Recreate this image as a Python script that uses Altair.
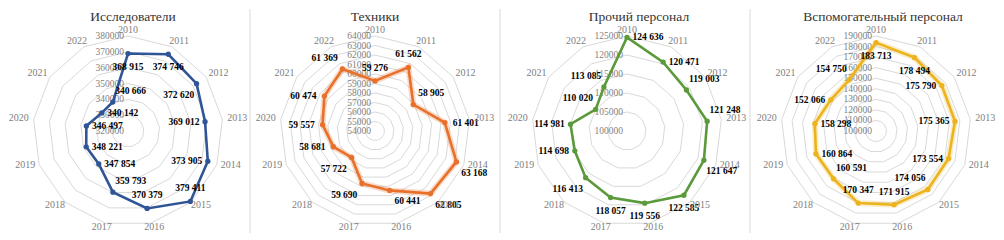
import altair as alt
import pandas as pd

# ---------------- data ----------------
years = [str(y) for y in range(2010, 2023)]
titles = ["Исследователи", "Техники", "Прочий персонал", "Вспомогательный персонал"]
researchers = [368915, 374746, 372620, 369012, 373905, 379411, 370379, 359793, 347854, 348221, 346497, 340142, 340666]
technicians = [59276, 61562, 58905, 61401, 63168, 62805, 60441, 59690, 57722, 58681, 59557, 60474, 61369]
other_staff = [124636, 120471, 119003, 121248, 121647, 122585, 119556, 118057, 116413, 114698, 114981, 110020, 113085]
support_staff = [183713, 178494, 175790, 175365, 173554, 174056, 171915, 170347, 160591, 160864, 158298, 152066, 154750]
axis_min = [320000, 54000, 100000, 100000]
axis_max = [380000, 64000, 125000, 190000]
axis_step = [10000, 1000, 5000, 10000]

series = [researchers, technicians, other_staff, support_staff]

# ---------------- layout / style ----------------
FONT = "Liberation Serif, 'Times New Roman', serif"
N = len(years)
R = 95          # outer ring radius (px)
RHO = 100       # category label radius (px)
CY = 130        # page y of radar centre
TOP, BOTTOM = 8, 232
edges = [8, 250, 500, 750, 996]
centers = [128, 375, 627, 876]
title_x = [133, 375, 639, 883]
TITLE_Y = 20
colors = ["#2F5597", "#E8702A", "#5A9A3A", "#EDB31E"]
glow = [False, True, False, True]
GRID = "#d9d9d9"

# data-label placement (like Excel's label position: side of the point)
label_side = [
    ["S", "S", "SW", "W", "W", "N", "N", "NE", "E", "E", "E", "E", "NE"],
    ["N", "N", "NE", "E", "SE", "SE", "SE", "SW", "SW", "W", "W", "W", "NW"],
    ["E", "E", "NE", "NE", "SE", "S", "S", "S", "SW", "W", "W", "NW", "NW"],
    ["S", "S", "W", "W", "W", "NW", "N", "N", "NE", "E", "E", "W", "NW"],
]
SIDE_VEC = {"E": (1, 0), "W": (-1, 0), "N": (0, -1), "S": (0, 1),
            "NE": (0.85, -0.85), "NW": (-0.85, -0.85), "SE": (0.85, 0.85), "SW": (-0.85, 0.85)}
DH, DV = 21, 13


def fmt(v):
    return f"{v:,}".replace(",", " ")


def make_panel(k):
    vals = series[k]
    lo, hi, step = axis_min[k], axis_max[k], axis_step[k]
    cx = centers[k]
    left, right = edges[k], edges[k + 1]
    W = right - left
    H = BOTTOM - TOP
    xs = alt.Scale(domain=[left, right], nice=False, zero=False)
    ys = alt.Scale(domain=[TOP, BOTTOM], nice=False, zero=False, reverse=True)

    def enc(xf="px", yf="py"):
        return dict(x=alt.X(f"{xf}:Q", scale=xs, axis=None),
                    y=alt.Y(f"{yf}:Q", scale=ys, axis=None))

    ang = f"datum.i * 2 * PI / {N}"
    rad = f"(datum.v - {lo}) / {hi - lo} * {R}"

    def polar(ch):
        return (ch.transform_calculate(a=ang)
                  .transform_calculate(r=rad)
                  .transform_calculate(px=f"{cx} + datum.r * sin(datum.a)")
                  .transform_calculate(py=f"{CY} - datum.r * cos(datum.a)"))

    # grid rings
    ring_vals = list(range(lo + step, hi + 1, step))
    grid_df = pd.DataFrame([{"ring": rv, "i": i, "v": rv} for rv in ring_vals for i in range(N + 1)])
    grid = polar(alt.Chart(grid_df)).mark_line(color=GRID, strokeWidth=1).encode(
        detail="ring:N", order="i:Q", **enc())

    # radial tick labels
    tick_vals = list(range(lo, hi + 1, step))
    tick_df = pd.DataFrame({"v": tick_vals, "t": [str(t) for t in tick_vals]})
    ticks = (alt.Chart(tick_df)
             .transform_calculate(r=rad)
             .transform_calculate(px=f"{cx - 4}")
             .transform_calculate(py=f"{CY} - datum.r")
             .mark_text(align="right", baseline="middle", fontSize=9.5, font=FONT, color="#7f7f7f")
             .encode(text="t:N", **enc()))

    # series
    sides = label_side[k] + [label_side[k][0]]
    s_df = pd.DataFrame({"i": list(range(N + 1)),
                         "year": years + [years[0]],
                         "v": vals + [vals[0]],
                         "label": [fmt(v) for v in vals] + [""],
                         "ldx": [SIDE_VEC[s][0] * DH for s in sides],
                         "ldy": [SIDE_VEC[s][1] * DV for s in sides]})
    base = polar(alt.Chart(s_df))
    layers = [grid, ticks]
    if glow[k]:
        layers.append(base.mark_line(color=colors[k], strokeWidth=6, opacity=0.25).encode(order="i:Q", **enc()))
    layers.append(base.mark_line(color=colors[k], strokeWidth=2.6).encode(order="i:Q", **enc()))
    layers.append(base.transform_filter(f"datum.i < {N}")
                  .mark_circle(color=colors[k], size=28, opacity=1).encode(**enc()))

    lab = (base.transform_filter(f"datum.i < {N}")
           .transform_calculate(lx="datum.px + datum.ldx")
           .transform_calculate(ly="datum.py + datum.ldy")
           .mark_text(fontSize=9.5, fontWeight="bold", font=FONT, color="#000000",
                      align="center", baseline="middle")
           .encode(text="label:N", **enc("lx", "ly")))
    layers.append(lab)

    # category labels
    cat_df = pd.DataFrame({"i": list(range(N)), "year": years})
    cats = (alt.Chart(cat_df)
            .transform_calculate(a=ang)
            .transform_calculate(px=f"{cx} + {RHO} * sin(datum.a) + 10 * sin(datum.a)")
            .transform_calculate(py=f"{CY} - {RHO} * cos(datum.a) - 1")
            .mark_text(fontSize=10, font=FONT, color="#808080", align="center", baseline="middle")
            .encode(text="year:N", **enc()))
    layers.append(cats)

    # title
    t_df = pd.DataFrame({"t": [titles[k]]})
    layers.append(alt.Chart(t_df).mark_text(fontSize=13.5, font=FONT, color="#333333",
                                            align="center", baseline="alphabetic")
                  .encode(text="t:N", x=alt.value(title_x[k] - left), y=alt.value(TITLE_Y - TOP)))

    # separator on the right
    if k < 3:
        layers.append(alt.Chart(pd.DataFrame({"s": [0]})).mark_rule(color=GRID, strokeWidth=1)
                      .encode(x=alt.value(W), y=alt.value(0), y2=alt.value(H)))

    return alt.layer(*layers).properties(width=W, height=H)


panels = [make_panel(k) for k in range(4)]
chart = alt.hconcat(*panels, spacing=0, padding=0, bounds="flush").configure_view(stroke=None)
chart.save("out.html", embed_options={"renderer": "svg", "actions": False})
